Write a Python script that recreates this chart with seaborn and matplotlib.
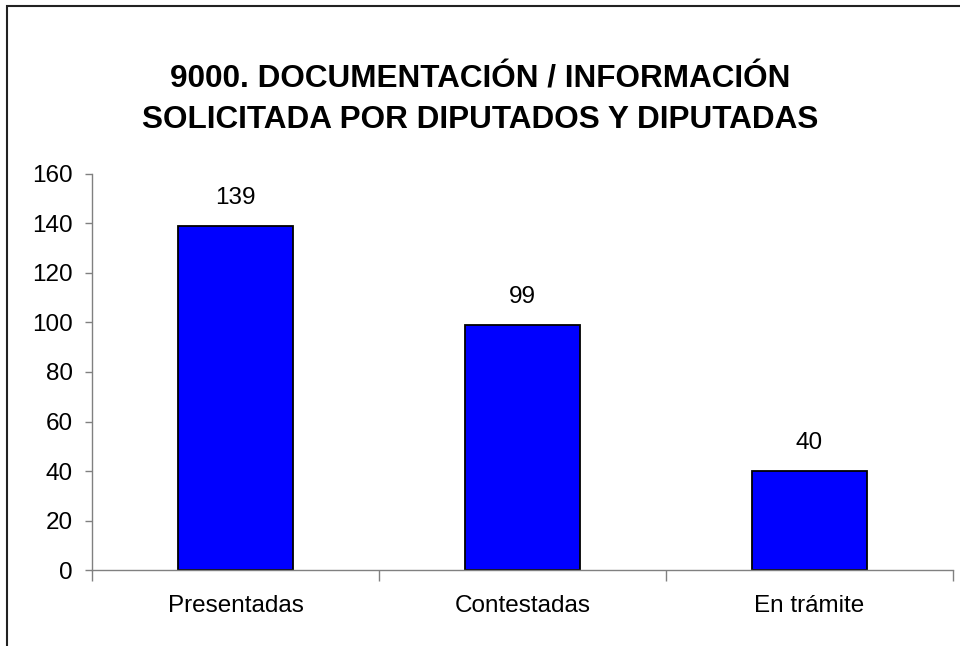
import pandas as pd
import numpy as np
import matplotlib.pyplot as plt
import seaborn as sns
from matplotlib.patches import Rectangle
from matplotlib.ticker import FixedLocator, NullFormatter

# -------- Data --------
categories = ["Presentadas", "Contestadas", "En trámite"]
values = [139, 99, 40]
title = "9000. DOCUMENTACIÓN / INFORMACIÓN\nSOLICITADA POR DIPUTADOS Y DIPUTADAS"

df = pd.DataFrame({"Estado": categories, "Total": values})

# -------- Plot setup --------
sns.set_style("white")
plt.rcParams["font.family"] = ["Liberation Sans", "DejaVu Sans"]
plt.rcParams["text.color"] = "black"
plt.rcParams["xtick.labelcolor"] = "black"
plt.rcParams["ytick.labelcolor"] = "black"

fig = plt.figure(figsize=(9.6, 6.46), dpi=100)
ax = fig.add_axes([0.0958, 0.1176, 0.8969, 0.6131])

sns.barplot(data=df, x="Estado", y="Total", ax=ax, color="#0000FF",
            saturation=1, width=0.4, edgecolor="black", linewidth=1.3)

ax.bar_label(ax.containers[0], fmt="%d", padding=12, fontsize=17.5, color="black")

# -------- Axes styling --------
ax.set_ylim(0, 160)
ax.set_xlim(-0.5, len(categories) - 0.5)
ax.set_yticks(np.arange(0, 161, 20))
ax.tick_params(axis="y", labelsize=17.5, length=5, width=1, color="#808080",
               direction="out", pad=9, left=True, labelcolor="black")

# category separators as major ticks, labels on minor ticks
ax.xaxis.set_major_locator(FixedLocator(np.arange(-0.5, len(categories), 1.0)))
ax.xaxis.set_major_formatter(NullFormatter())
ax.xaxis.set_minor_locator(FixedLocator(np.arange(len(categories))))
ax.set_xticklabels(categories, minor=True)
ax.tick_params(axis="x", which="major", length=8, width=1, color="#808080",
               direction="out", bottom=True)
ax.tick_params(axis="x", which="minor", length=0, labelsize=17.5, pad=18,
               labelcolor="black")

ax.set_xlabel("")
ax.set_ylabel("")
for side in ["top", "right"]:
    ax.spines[side].set_visible(False)
for side in ["left", "bottom"]:
    ax.spines[side].set_color("#808080")
    ax.spines[side].set_linewidth(1)

# -------- Title and frame --------
fig.text(0.5, 0.845, title, ha="center", va="center", fontsize=22.7,
         fontweight="bold", linespacing=1.45, color="black")

fig.patches.append(Rectangle((7 / 960, -0.1), 1.2, 1 - 6 / 646 + 0.1,
                             transform=fig.transFigure, fill=False,
                             edgecolor="#222222", linewidth=1.5))

fig.savefig("out.png", dpi=100)
